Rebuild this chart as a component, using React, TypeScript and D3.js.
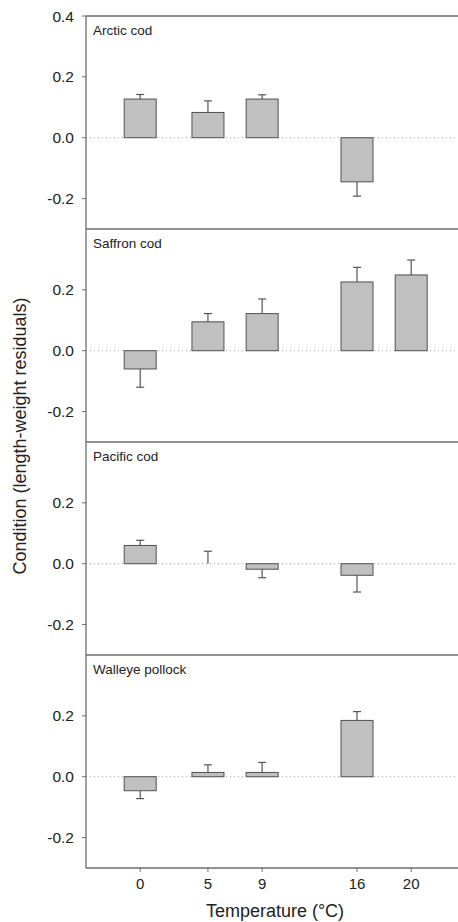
import React from "react";
import * as d3 from "d3";

const temps = [0, 5, 9, 16, 20];
const xTickLabels = ["0", "5", "9", "16", "20"];
const species = ["Arctic cod", "Saffron cod", "Pacific cod", "Walleye pollock"];

// [temperature, mean, mean±SE end]
const arcticCod = [
  [0, 0.127, 0.142],
  [5, 0.083, 0.121],
  [9, 0.127, 0.141],
  [16, -0.145, -0.192],
];
const saffronCod = [
  [0, -0.06, -0.12],
  [5, 0.095, 0.122],
  [9, 0.122, 0.17],
  [16, 0.226, 0.274],
  [20, 0.249, 0.298],
];
const pacificCod = [
  [0, 0.06, 0.077],
  [5, 0.0, 0.041],
  [9, -0.018, -0.046],
  [16, -0.038, -0.093],
];
const walleyePollock = [
  [0, -0.046, -0.072],
  [5, 0.014, 0.039],
  [9, 0.014, 0.047],
  [16, 0.185, 0.214],
];
const panelData = [arcticCod, saffronCod, pacificCod, walleyePollock];
const firstPanelTicks = [0.4, 0.2, 0.0, -0.2];
const otherPanelTicks = [0.2, 0.0, -0.2];

const W = 458;
const H = 922;
const left = 86;
const top = 16;
const panelH = 213;
const font = "'Liberation Sans', Arial, sans-serif";
const axisColor = "#6e6e6e";

const fmt = (v: number) => d3.format(".1f")(v).replace("\u2212", "-");

export default function App() {
  const x = d3.scaleLinear().domain([-4, 24]).range([left, left + 28 * 13.55]);
  const barW = 32;
  const bottom = top + panelH * 4;

  return (
    <div style={{ position: "absolute", left: 0, top: 0 }}>
      <svg width={W} height={H} style={{ display: "block", background: "#fff" }}>
        {panelData.map((data, pi) => {
          const y0 = top + pi * panelH;
          const y = d3.scaleLinear().domain([-0.3, 0.4]).range([y0 + panelH, y0]);
          const ticks = pi === 0 ? firstPanelTicks : otherPanelTicks;
          return (
            <g key={pi}>
              <line x1={left} x2={W} y1={y(0)} y2={y(0)} stroke="#a0a0a0" strokeWidth={1} strokeDasharray="1,3" />
              {data.map(([t, m, e], i) => {
                const cx = x(t);
                const yTop = Math.min(y(m), y(0));
                const h = Math.abs(y(m) - y(0));
                return (
                  <g key={i}>
                    <line x1={cx} x2={cx} y1={y(m)} y2={y(e)} stroke="#555" strokeWidth={1.2} />
                    <line x1={cx - 4} x2={cx + 4} y1={y(e)} y2={y(e)} stroke="#555" strokeWidth={1.2} />
                    {h > 0.5 && (
                      <rect x={cx - barW / 2} y={yTop} width={barW} height={h} fill="#c0c0c0" stroke="#505050" strokeWidth={1} />
                    )}
                  </g>
                );
              })}
              <line x1={left} x2={W} y1={y0} y2={y0} stroke={axisColor} strokeWidth={1.3} />
              {ticks.map((tv) => (
                <g key={tv}>
                  <line x1={left - 4} x2={left} y1={y(tv)} y2={y(tv)} stroke={axisColor} strokeWidth={1} />
                  <text x={left - 12} y={y(tv)} dy="0.36em" textAnchor="end" fontFamily={font} fontSize={15.5} fill="#222">
                    {fmt(tv)}
                  </text>
                </g>
              ))}
              <text x={left + 7} y={y0 + 19} fontFamily={font} fontSize={13.5} fill="#222">
                {species[pi]}
              </text>
            </g>
          );
        })}
        <line x1={left} x2={left} y1={top} y2={bottom} stroke={axisColor} strokeWidth={1.3} />
        <line x1={left} x2={W} y1={bottom} y2={bottom} stroke={axisColor} strokeWidth={1.3} />
        {temps.map((t, i) => (
          <g key={t}>
            <line x1={x(t)} x2={x(t)} y1={bottom} y2={bottom + 4} stroke={axisColor} strokeWidth={1} />
            <text x={x(t)} y={bottom + 21} textAnchor="middle" fontFamily={font} fontSize={15} fill="#222">
              {xTickLabels[i]}
            </text>
          </g>
        ))}
        <text x={275} y={917} textAnchor="middle" fontFamily={font} fontSize={18} fill="#222">
          Temperature (°C)
        </text>
        <text
          transform={`translate(26,436) rotate(-90)`}
          textAnchor="middle"
          fontFamily={font}
          fontSize={18}
          fill="#222"
        >
          Condition (length-weight residuals)
        </text>
      </svg>
    </div>
  );
}
